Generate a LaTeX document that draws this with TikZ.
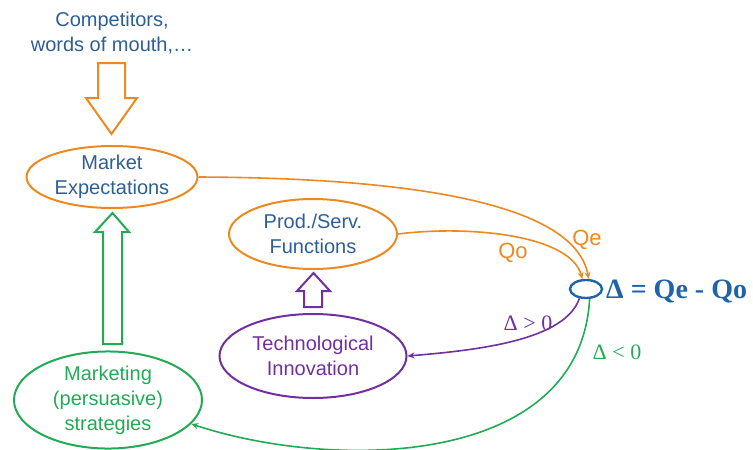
\documentclass[tikz,border=0pt]{standalone}
\usepackage{fontspec}
\setmainfont{Liberation Sans}
\newfontfamily\serifface{Liberation Serif}
\usetikzlibrary{shapes.geometric,arrows.meta}
\definecolor{txtblue}{RGB}{46,94,150}
\definecolor{dblue}{RGB}{31,100,168}
\definecolor{orng}{RGB}{237,137,33}
\definecolor{grn}{RGB}{35,170,85}
\definecolor{purp}{RGB}{112,48,160}
\tikzset{
  bubble/.style={ellipse, draw, line width=2pt, inner sep=0pt, align=center,
    font=\fontsize{20}{25}\selectfont},
  flow/.style={line width=1.6pt, -{Stealth[length=7pt,width=6pt]}},
  fat/.style={line width=2pt, fill=white, line join=miter},
  lbl/.style={font=\fontsize{22}{26}\selectfont},
  rel/.style={font=\serifface\fontsize{22}{26}\selectfont},
}
\begin{document}
\begin{tikzpicture}[x=1pt,y=-1pt]
\useasboundingbox (0,0) rectangle (753,450);

% sources and states
\node[text=txtblue, align=center, font=\fontsize{20}{25}\selectfont] (comp) at (112,33)
  {Competitors,\\words of mouth,\dots};
\node[bubble, draw=orng, text=txtblue, minimum width=171pt, minimum height=62pt] (me) at (112,177)
  {Market\\Expectations};
\node[bubble, draw=orng, text=txtblue, minimum width=168pt, minimum height=70pt] (ps) at (313,234)
  {Prod./Serv.\\Functions};
\node[bubble, draw=purp, text=purp, minimum width=187pt, minimum height=84pt] (ti) at (313,356)
  {Technological\\Innovation};
\node[bubble, draw=grn, text=grn, minimum width=188pt, minimum height=97pt] (mk) at (108,400)
  {Marketing\\(persuasive)\\strategies};
\node[ellipse, draw=dblue, line width=2.4pt, minimum width=32pt, minimum height=18pt, inner sep=0pt] (d) at (586,289) {};
\node[anchor=west, text=dblue, font=\serifface\bfseries\fontsize{28}{32}\selectfont, inner sep=0pt] (eq) at (606,291)
  {Δ = Qe - Qo};

% hollow block arrows
\draw[fat, draw=orng] (98,63) -- (125,63) -- (125,98) -- (137,98) -- (111.5,134)
  -- (86,98) -- (98,98) -- cycle;
\draw[fat, draw=grn] (103,344) -- (122,344) -- (122,232) -- (129,232) -- (112.5,213)
  -- (95,232) -- (103,232) -- cycle;
\draw[fat, draw=purp] (304,307) -- (322,307) -- (322,291) -- (330,291) -- (313.5,273)
  -- (297,291) -- (304,291) -- cycle;

% flows into and out of the gap
\draw[flow, orng] (me.east) .. controls (420,178) and (575,205) .. (d.75);
\draw[flow, orng] (ps.east) .. controls (470,225) and (570,235) .. (d.110);
\draw[flow, purp] (d.235) .. controls (565,340) and (480,350) .. (ti.east);
\draw[flow, grn] (d.-70) .. controls (580,470) and (330,470) .. (mk.-16);

% labels
\node[lbl, text=orng] (lqe) at (587,240) {Qe};
\node[lbl, text=orng] (lqo) at (513,253) {Qo};
\node[rel, text=purp] (lgt) at (528,323) {Δ > 0};
\node[rel, text=grn] (llt) at (617,352) {Δ < 0};
\end{tikzpicture}
\end{document}
